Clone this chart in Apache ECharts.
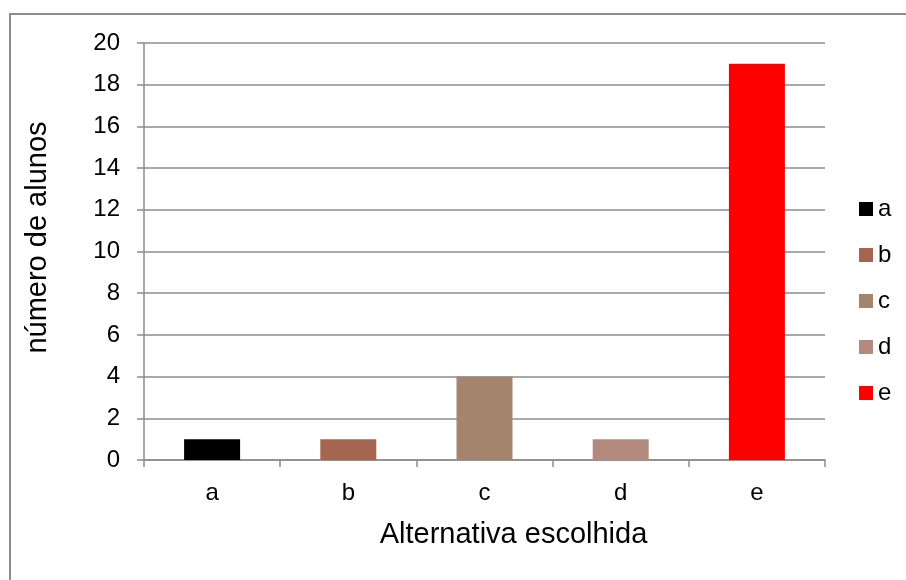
<!DOCTYPE html>
<html>
<head>
<meta charset="utf-8">
<script src="https://cdn.jsdelivr.net/npm/echarts@6/dist/echarts.min.js"></script>
<style>
  html, body { margin: 0; padding: 0; background: #fff; }
  #chart { width: 906px; height: 580px; }
</style>
</head>
<body>
<div id="chart"></div>
<script>
// Answers chosen by the students
const categories = ['a', 'b', 'c', 'd', 'e'];
const counts = [1, 1, 4, 1, 19];
const barColors = ['#000000', '#A5654E', '#A5846E', '#B48A7E', '#FF0000'];
const yTicks = [0, 2, 4, 6, 8, 10, 12, 14, 16, 18, 20];

const axisGray = '#8C8C8C';
const font = 'Liberation Sans, Arial, sans-serif';

// One series per alternative so each gets its own legend entry;
// stacking keeps every bar centred on its category.
const series = categories.map((name, i) => ({
  name: name,
  type: 'bar',
  stack: 'all',
  barWidth: 56,
  itemStyle: { color: barColors[i] },
  data: categories.map((_, j) => (j === i ? counts[i] : null))
}));

const chart = echarts.init(document.getElementById('chart'), null, { renderer: 'canvas' });
chart.setOption({
  animation: false,
  backgroundColor: '#ffffff',
  graphic: [{
    type: 'rect',
    shape: { x: 10, y: 14, width: 920, height: 600 },
    style: { fill: 'none', stroke: '#8C8C8C', lineWidth: 2 },
    silent: true,
    z: -1
  }],
  grid: { left: 144, right: 81, top: 43, bottom: 120 },
  legend: {
    orient: 'vertical',
    left: 859,
    top: 197,
    padding: 0,
    itemWidth: 14,
    itemHeight: 14,
    itemGap: 22,
    icon: 'rect',
    selectedMode: false,
    textStyle: { fontFamily: font, fontSize: 24, color: '#000' },
    data: categories
  },
  xAxis: {
    type: 'category',
    data: categories,
    name: 'Alternativa escolhida',
    nameLocation: 'middle',
    nameGap: 60,
    nameTextStyle: { fontFamily: font, fontSize: 29, color: '#000', padding: [0, 0, 0, 58] },
    axisLine: { lineStyle: { color: axisGray, width: 1.5 } },
    axisTick: { show: true, length: 7, alignWithLabel: false, lineStyle: { color: axisGray, width: 1.5 } },
    axisLabel: { fontFamily: font, fontSize: 24, color: '#000', margin: 21 }
  },
  yAxis: {
    type: 'value',
    min: yTicks[0],
    max: yTicks[yTicks.length - 1],
    interval: yTicks[1] - yTicks[0],
    name: 'número de alunos',
    nameLocation: 'middle',
    nameGap: 92,
    nameTextStyle: { fontFamily: font, fontSize: 29, color: '#000', padding: [0, 0, 0, 28] },
    axisLine: { show: true, lineStyle: { color: axisGray, width: 1.5 } },
    axisTick: { show: true, length: 7, lineStyle: { color: axisGray, width: 1.5 } },
    axisLabel: { fontFamily: font, fontSize: 24, color: '#000', margin: 24 },
    splitLine: { show: true, lineStyle: { color: axisGray, width: 1.5 } }
  },
  series: series
});
</script>
</body>
</html>
